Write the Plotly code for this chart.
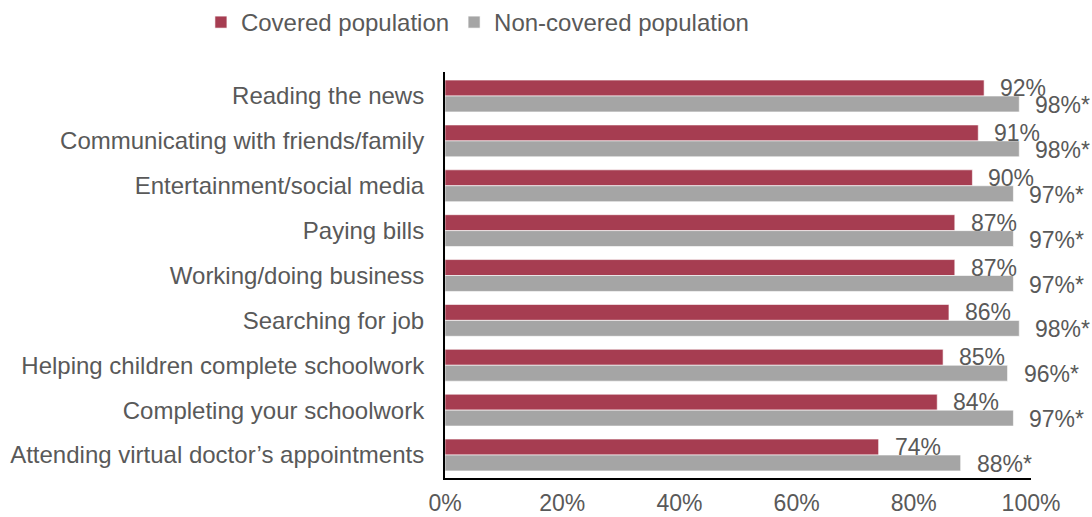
import plotly.graph_objects as go

# Share of respondents using internet for each activity
categories = [
    "Reading the news",
    "Communicating with friends/family",
    "Entertainment/social media",
    "Paying bills",
    "Working/doing business",
    "Searching for job",
    "Helping children complete schoolwork",
    "Completing your schoolwork",
    "Attending virtual doctor\u2019s appointments",
]
covered = [92, 91, 90, 87, 87, 86, 85, 84, 74]
non_covered = [98, 98, 97, 97, 97, 98, 96, 97, 88]
non_covered_mark = ["*"] * len(non_covered)  # significant difference marker
x_ticks = [0, 20, 40, 60, 80, 100]

RED = "#A63D51"
GRAY = "#A5A5A5"
TEXT = "#595959"
FONT = "Liberation Sans, Arial, sans-serif"
LABEL_SIZE = 24
NUM_SIZE = 23

fig = go.Figure()
fig.add_trace(go.Bar(
    y=categories, x=covered, orientation="h", name="Covered population",
    marker=dict(color=RED, line=dict(color="rgba(255,255,255,0.6)", width=1)),
    hoverinfo="x+y",
))
fig.add_trace(go.Bar(
    y=categories, x=non_covered, orientation="h", name="Non-covered population",
    marker=dict(color=GRAY, line=dict(color="rgba(255,255,255,0.6)", width=1)),
    hoverinfo="x+y",
))

# Value labels just past the end of each bar
for cat, c, n, m in zip(categories, covered, non_covered, non_covered_mark):
    fig.add_annotation(x=c, y=cat, text=f"{c}%", showarrow=False,
                       xanchor="left", yanchor="middle", xshift=14, yshift=8,
                       font=dict(size=NUM_SIZE, color=TEXT, family=FONT))
    fig.add_annotation(x=n, y=cat, text=f"{n}%{m}", showarrow=False,
                       xanchor="left", yanchor="middle", xshift=14, yshift=-9,
                       font=dict(size=NUM_SIZE, color=TEXT, family=FONT))

fig.update_layout(
    width=1092, height=517,
    margin=dict(l=445, r=61, t=72, b=39),
    paper_bgcolor="white", plot_bgcolor="white",
    barmode="group", bargap=0.29, bargroupgap=0,
    font=dict(family=FONT, size=LABEL_SIZE, color=TEXT),
    showlegend=True,
    legend=dict(orientation="h", x=0.184, xanchor="left", y=1.0, yanchor="top",
                yref="container", xref="container",
                font=dict(size=LABEL_SIZE, color=TEXT, family=FONT),
                itemwidth=30, tracegroupgap=0, traceorder="normal"),
    xaxis=dict(range=[0, 100], tickvals=x_ticks,
               ticktext=[f"{t}%" for t in x_ticks],
               showgrid=False, zeroline=False, automargin=False,
               showline=True, linecolor="black", linewidth=2,
               ticks="", ticklabelstandoff=3,
               tickfont=dict(size=NUM_SIZE, color=TEXT, family=FONT)),
    yaxis=dict(categoryorder="array", categoryarray=categories,
               autorange="reversed", showgrid=False, zeroline=False,
               automargin=False,
               showline=True, linecolor="black", linewidth=2,
               ticks="", ticklabelstandoff=14,
               tickfont=dict(size=LABEL_SIZE, color=TEXT, family=FONT)),
)

fig.write_html("out.html")
